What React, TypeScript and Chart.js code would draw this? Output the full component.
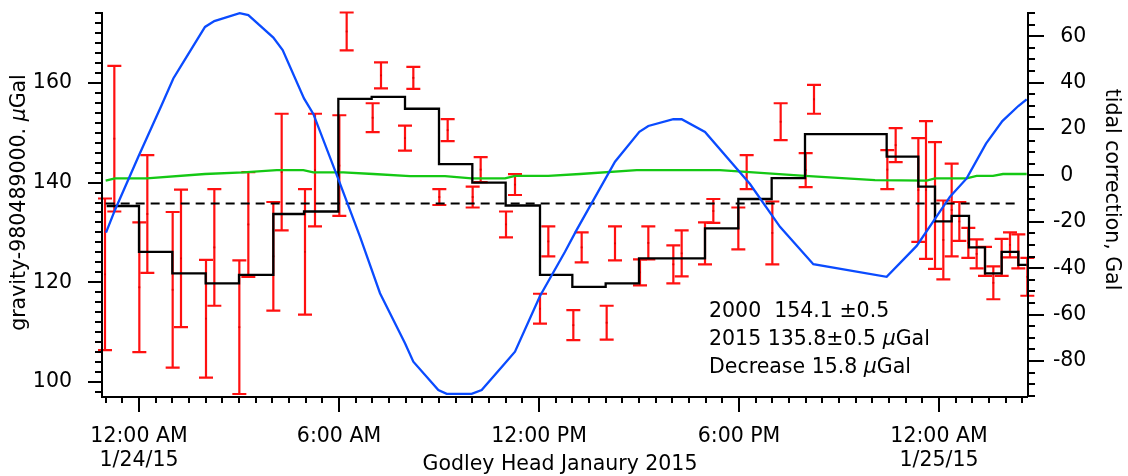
import React, { useEffect, useRef } from 'react';
import { Chart, registerables } from 'chart.js';

Chart.register(...registerables);

const FONT_FAMILY = '"DejaVu Sans", "Noto Sans", sans-serif';
const FONT_SIZE = 20.5;

// Hours since 12:00 AM 1/24/15
const xTickHours = [0, 6, 12, 18, 24];
const xTickLabels: (string | string[])[] = [
  ['12:00 AM', '1/24/15'],
  '6:00 AM',
  '12:00 PM',
  '6:00 PM',
  ['12:00 AM', '1/25/15'],
];
const leftTickValues = [100, 120, 140, 160];
const rightTickValues = [-80, -60, -40, -20, 0, 20, 40, 60];

// Gravity readings (left axis, µGal) with 1-sigma errors
const gravityTimes = [
  -1.02, -0.74, 0.01, 0.25, 1.01, 1.26, 2.01, 2.26, 3.01, 3.28,
  4.03, 4.28, 4.98, 5.28, 6.01, 6.23, 7.01, 7.26, 7.98, 8.23,
  9.01, 9.26, 10.01, 10.25, 11.01, 11.28, 12.03, 12.28, 13.03, 13.28,
  14.03, 14.28, 15.03, 15.28, 16.03, 16.28, 16.98, 17.23, 17.98, 18.23,
  19.0, 19.25, 20.0, 20.25, 22.45, 22.7, 23.38, 23.61, 23.88, 24.13,
  24.38, 24.61, 24.88, 25.13, 25.38, 25.63, 25.88, 26.13, 26.38, 26.65,
];
const gravityValues = [
  121.6, 148.8, 119.0, 133.7, 118.5, 124.8, 112.7, 127.0, 111.0, 131.6,
  125.2, 142.1, 126.1, 142.5, 143.4, 170.3, 153.0, 161.5, 148.9, 161.0,
  137.1, 150.5, 137.1, 142.6, 131.6, 139.6, 114.7, 128.2, 111.4, 127.0,
  111.9, 127.8, 122.0, 127.9, 123.6, 125.8, 127.8, 134.3, 130.8, 142.1,
  129.9, 152.2, 142.5, 156.7, 142.6, 147.5, 138.5, 138.5, 135.4, 128.5,
  134.5, 132.2, 127.9, 125.7, 124.2, 119.9, 125.0, 127.5, 126.2, 121.1,
];
const gravityErrors = [
  15.2, 14.6, 13.0, 11.8, 15.6, 13.8, 11.8, 11.7, 13.4, 10.5,
  10.9, 11.7, 12.6, 11.3, 10.1, 3.8, 2.9, 2.6, 2.5, 2.2,
  1.6, 2.2, 2.1, 2.5, 2.6, 2.1, 3.0, 3.0, 3.0, 3.0,
  3.4, 3.4, 2.6, 3.3, 3.8, 4.6, 4.2, 2.4, 4.2, 3.4,
  6.3, 3.7, 3.4, 2.9, 3.9, 3.4, 10.4, 13.8, 12.7, 7.9,
  9.3, 3.9, 3.0, 2.9, 2.9, 3.3, 3.7, 2.5, 3.4, 3.8,
];

// Hourly mean (step line, left axis)
const meanTimes = [
  -0.97, 0.0, 1.0, 2.0, 3.0, 4.03, 4.95, 5.98, 6.98, 7.98,
  9.0, 10.0, 11.0, 12.03, 13.0, 14.0, 15.0, 16.98, 17.98, 18.98,
  19.98, 22.43, 23.38, 23.88, 24.38, 24.9, 25.38, 25.88, 26.38, 26.63,
];
const meanValues = [
  135.3, 126.1, 121.8, 119.8, 121.5, 133.7, 134.2, 156.8, 157.2, 154.8,
  143.7, 140.0, 135.4, 121.5, 119.1, 119.8, 124.8, 130.8, 136.7, 140.9,
  149.7, 145.2, 139.2, 132.2, 133.3, 127.0, 121.8, 126.1, 123.5, 123.5,
];

// 2015 mean level (dashed)
const meanLevelTimes = [-1.0, 26.38];
const meanLevelValues = [135.8, 135.8];

// Tidal correction (right axis, blue)
const tideTimes = [
  -0.99, -0.72, -0.02, 0.68, 1.03, 1.28, 1.98, 2.26, 3.02, 3.28,
  4.03, 4.31, 4.95, 5.23, 5.98, 6.63, 7.23, 7.98, 8.23, 8.98,
  9.23, 9.98, 10.28, 10.98, 11.28, 12.03, 12.78, 13.13, 14.28, 15.01,
  15.28, 16.03, 16.28, 16.98, 18.33, 19.23, 20.23, 22.43, 23.33, 24.33,
  24.83, 25.41, 25.9, 26.38, 26.63,
];
const tideValues = [
  -24.7, -14.9, 8.0, 30.3, 41.8, 47.6, 64.0, 66.5, 69.9, 69.1,
  59.4, 54.0, 33.2, 26.5, -1.6, -26.4, -50.8, -72.4, -80.3, -92.5,
  -94.2, -94.2, -92.5, -81.0, -76.0, -52.0, -32.9, -23.5, 5.9, 18.8,
  21.3, 24.2, 24.2, 18.7, -3.7, -22.2, -38.3, -43.7, -30.4, -9.2,
  -1.3, 13.7, 23.4, 29.9, 32.8,
];

// Second correction trace (right axis, green)
const greenTimes = [
  -1.0, -0.72, 0.23, 1.98, 3.13, 4.13, 4.93, 5.23, 6.13, 7.03,
  8.13, 9.18, 9.98, 10.98, 11.28, 12.28, 13.23, 14.93, 17.43, 19.98,
  22.08, 23.63, 23.88, 24.83, 25.13, 25.62, 25.92, 26.63,
];
const greenValues = [
  -2.3, -1.3, -1.3, 0.6, 1.3, 2.3, 2.3, 1.3, 1.3, 0.6,
  -0.3, -0.3, -1.3, -1.3, -0.2, -0.2, 0.6, 2.3, 2.3, -0.2,
  -2.0, -2.3, -1.3, -1.3, -0.2, -0.2, 0.6, 0.6,
];

type Run = [string, boolean];
const annotationLines: Run[][] = [
  [['2000  154.1 ±0.5', false]],
  [['2015 135.8±0.5 ', false], ['\u03bc', true], ['Gal', false]],
  [['Decrease 15.8 ', false], ['\u03bc', true], ['Gal', false]],
];
const leftTitleRuns: Run[] = [['gravity-980489000. ', false], ['\u03bc', true], ['Gal', false]];
const rightTitleRuns: Run[] = [['tidal correction, Gal', false]];
const bottomTitleRuns: Run[] = [['Godley Head Janaury 2015', false]];

function fontStr(italic: boolean) {
  return `${italic ? 'italic ' : ''}${FONT_SIZE}px ${FONT_FAMILY}`;
}

function drawRuns(ctx: CanvasRenderingContext2D, runs: Run[], x: number, y: number, align: 'left' | 'center') {
  const widths = runs.map(([t, it]) => {
    ctx.font = fontStr(it);
    return ctx.measureText(t).width;
  });
  const total = widths.reduce((a, b) => a + b, 0);
  let cx = align === 'center' ? x - total / 2 : x;
  ctx.textAlign = 'left';
  runs.forEach(([t, it], i) => {
    ctx.font = fontStr(it);
    ctx.fillText(t, cx, y);
    cx += widths[i];
  });
}

const zeroPadding = (s: any) => {
  s.paddingTop = 0;
  s.paddingBottom = 0;
  s.paddingLeft = 0;
  s.paddingRight = 0;
};

const decorPlugin = {
  id: 'decor',
  beforeDatasetsDraw(chart: any) {
    const { ctx } = chart;
    const xs = chart.scales.x;
    const ys = chart.scales.y;
    ctx.save();
    ctx.strokeStyle = '#ff1010';
    ctx.lineWidth = 2.2;
    const cap = 7;
    for (let i = 0; i < gravityTimes.length; i++) {
      const px = xs.getPixelForValue(gravityTimes[i]);
      const top = ys.getPixelForValue(gravityValues[i] + gravityErrors[i]);
      const bot = ys.getPixelForValue(gravityValues[i] - gravityErrors[i]);
      ctx.beginPath();
      ctx.moveTo(px, top);
      ctx.lineTo(px, bot);
      ctx.moveTo(px - cap, top);
      ctx.lineTo(px + cap, top);
      ctx.moveTo(px - cap, bot);
      ctx.lineTo(px + cap, bot);
      ctx.stroke();
    }
    ctx.restore();
  },
  afterDraw(chart: any) {
    const { ctx, chartArea } = chart;
    const xs = chart.scales.x;
    const ys = chart.scales.y;
    const y2 = chart.scales.y2;
    const { left, right, top, bottom } = chartArea;
    ctx.save();
    ctx.strokeStyle = '#000';
    ctx.fillStyle = '#000';
    ctx.lineWidth = 2;
    ctx.lineCap = 'butt';
    // axis lines
    ctx.beginPath();
    ctx.moveTo(left, top - 1);
    ctx.lineTo(left, bottom + 1);
    ctx.lineTo(right, bottom + 1);
    ctx.moveTo(right, top - 1);
    ctx.lineTo(right, bottom + 1);
    ctx.stroke();
    // x ticks every half hour
    ctx.beginPath();
    for (let k = -2; k <= 53; k++) {
      const h = k / 2;
      if (h < xs.min || h > xs.max) continue;
      const px = Math.round(xs.getPixelForValue(h));
      const len = h % 6 === 0 ? 16 : 7;
      ctx.moveTo(px, bottom);
      ctx.lineTo(px, bottom + len);
    }
    // left ticks every 2 units
    for (let v = 98; v <= 174; v += 2) {
      const py = Math.round(ys.getPixelForValue(v));
      const len = v % 20 === 0 ? 14 : 7;
      ctx.moveTo(left, py);
      ctx.lineTo(left - len, py);
    }
    // right ticks every 5 units
    for (let v = -95; v <= 70; v += 5) {
      const py = Math.round(y2.getPixelForValue(v));
      const len = v % 20 === 0 ? 16 : 7;
      ctx.moveTo(right, py);
      ctx.lineTo(right + len, py);
    }
    ctx.stroke();
    // right tick labels (minus sign hangs to the left)
    ctx.font = fontStr(false);
    ctx.textBaseline = 'middle';
    ctx.textAlign = 'left';
    const minusW = ctx.measureText('-').width;
    rightTickValues.forEach((v) => {
      const py = y2.getPixelForValue(v);
      const xStart = 1060.3 - (v < 0 ? minusW : 0);
      ctx.fillText(String(v), xStart, py);
    });
    // titles
    ctx.textBaseline = 'alphabetic';
    ctx.save();
    ctx.translate(25, 202.5);
    ctx.rotate(-Math.PI / 2);
    drawRuns(ctx, leftTitleRuns, 0, 0, 'center');
    ctx.restore();
    ctx.save();
    ctx.translate(1106, 189.5);
    ctx.rotate(Math.PI / 2);
    drawRuns(ctx, rightTitleRuns, 0, 0, 'center');
    ctx.restore();
    drawRuns(ctx, bottomTitleRuns, 560, 469.5, 'center');
    // annotation
    annotationLines.forEach((runs, i) => {
      drawRuns(ctx, runs, 709, 316.5 + i * 28, 'left');
    });
    ctx.restore();
  },
};

function pts(xsArr: number[], ysArr: number[]) {
  return xsArr.map((x, i) => ({ x, y: ysArr[i] }));
}

export default function App() {
  const ref = useRef<HTMLCanvasElement | null>(null);
  useEffect(() => {
    if (!ref.current) return;
    const tickFont = { family: FONT_FAMILY, size: FONT_SIZE, lineHeight: 1.2 };
    const chart = new Chart(ref.current, {
      type: 'line',
      data: {
        datasets: [
          {
            label: 'tidal correction',
            data: pts(tideTimes, tideValues),
            yAxisID: 'y2',
            borderColor: '#0a4bff',
            borderWidth: 2.3,
            pointRadius: 0,
            tension: 0,
            clip: false,
          },
          {
            label: 'hourly mean',
            data: pts(meanTimes, meanValues),
            yAxisID: 'y',
            stepped: 'before',
            borderColor: '#000000',
            borderWidth: 2.3,
            pointRadius: 0,
          },
          {
            label: '2015 mean',
            data: pts(meanLevelTimes, meanLevelValues),
            yAxisID: 'y',
            borderColor: '#000000',
            borderWidth: 2,
            borderDash: [9, 6],
            pointRadius: 0,
          },
          {
            label: 'other correction',
            data: pts(greenTimes, greenValues),
            yAxisID: 'y2',
            borderColor: '#14c814',
            borderWidth: 2.3,
            pointRadius: 0,
          },
          {
            label: 'gravity',
            data: pts(gravityTimes, gravityValues),
            yAxisID: 'y',
            showLine: false,
            pointStyle: 'rect',
            pointRadius: 1.3,
            pointBackgroundColor: '#e00000',
            pointBorderWidth: 0,
            clip: false,
          },
        ] as any,
      },
      options: {
        animation: false,
        responsive: false,
        events: [],
        layout: { padding: { top: 13, left: 0, right: 0, bottom: 0 }, autoPadding: false },
        plugins: { legend: { display: false }, tooltip: { enabled: false } },
        scales: {
          x: {
            type: 'linear',
            position: 'bottom',
            min: -1.11,
            max: 26.67,
            grid: { display: false },
            border: { display: false },
            afterBuildTicks: (s: any) => {
              s.ticks = xTickHours.map((v) => ({ value: v }));
            },
            afterFit: (s: any) => {
              s.height = 80;
              zeroPadding(s);
            },
            ticks: {
              autoSkip: false,
              maxRotation: 0,
              minRotation: 0,
              padding: 20,
              color: '#000',
              font: tickFont,
              callback: (v: any) => {
                const i = xTickHours.indexOf(Number(v));
                return i >= 0 ? xTickLabels[i] : '';
              },
            },
          },
          y: {
            type: 'linear',
            position: 'left',
            min: 97.2,
            max: 174,
            grid: { display: false },
            border: { display: false },
            afterBuildTicks: (s: any) => {
              s.ticks = leftTickValues.map((v) => ({ value: v }));
            },
            afterFit: (s: any) => {
              s.width = 102;
              zeroPadding(s);
            },
            ticks: {
              padding: 22,
              color: '#000',
              font: tickFont,
              callback: (v: any) => String(v),
            },
          },
          y2: {
            type: 'linear',
            position: 'right',
            min: -95.1,
            max: 70,
            grid: { display: false },
            border: { display: false },
            ticks: { display: false },
            afterFit: (s: any) => {
              s.width = 100;
              zeroPadding(s);
            },
          },
        },
      } as any,
      plugins: [decorPlugin as any],
    });
    return () => chart.destroy();
  }, []);
  return (
    <div style={{ position: 'fixed', left: 0, top: 0, width: 1128, height: 476, background: '#fff' }}>
      <canvas ref={ref} width={1128} height={476} style={{ display: 'block', width: 1128, height: 476 }} />
    </div>
  );
}
